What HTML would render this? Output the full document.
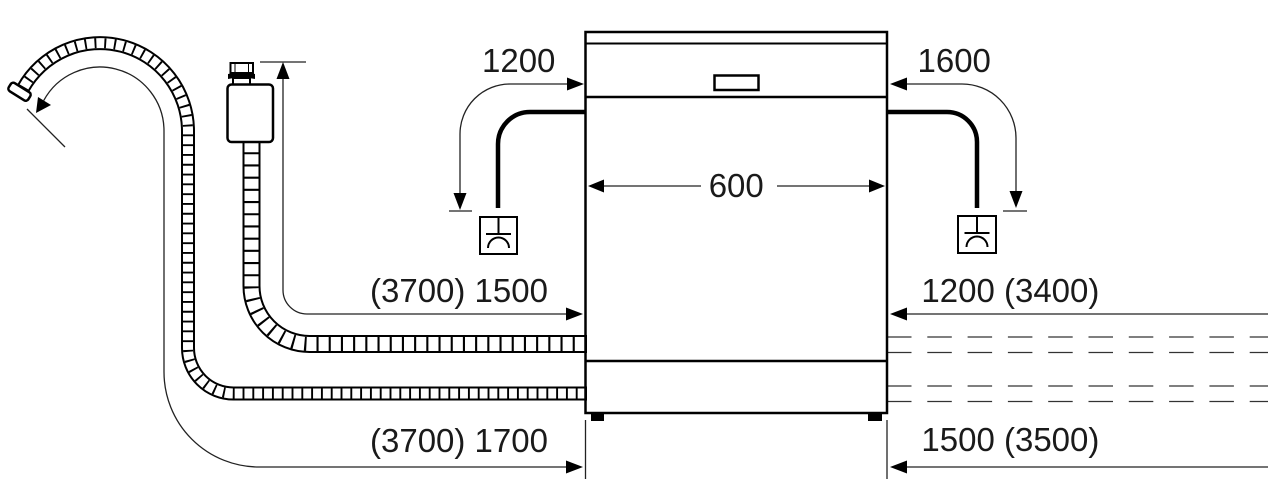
<!DOCTYPE html>
<html>
<head>
<meta charset="utf-8">
<style>
  html,body{margin:0;padding:0;background:#fff;}
  svg{display:block;}
  text{font-family:"Liberation Sans", Arial, sans-serif;font-size:33px;fill:#1a1a1a;}
</style>
</head>
<body>
<svg width="1280" height="498" viewBox="0 0 1280 498" xmlns="http://www.w3.org/2000/svg">
  <rect x="0" y="0" width="1280" height="498" fill="#fff"/>

  <!-- ===== Hoses (left) ===== -->
  <!-- big drain hose -->
  <g fill="none">
    <path d="M23,88.5 A88,88 0 0 1 188,131 V348 A45.5,45.5 0 0 0 233.5,393.5 H587" stroke="#000" stroke-width="14"/>
    <path d="M23,88.5 A88,88 0 0 1 188,131 V348 A45.5,45.5 0 0 0 233.5,393.5 H587" stroke="#fff" stroke-width="10"/>
    <path d="M23,88.5 A88,88 0 0 1 188,131 V348 A45.5,45.5 0 0 0 233.5,393.5 H587" stroke="#000" stroke-width="10" stroke-dasharray="1.9 7.9"/>
  </g>
  <rect x="8" y="87" width="23" height="9.5" rx="3" fill="#fff" stroke="#000" stroke-width="2.5" transform="rotate(32 19.5 91.75)"/>

  <!-- inlet hose -->
  <g fill="none">
    <path d="M251.5,140 V286 A58,58 0 0 0 309.5,344 H587" stroke="#000" stroke-width="18"/>
    <path d="M251.5,140 V286 A58,58 0 0 0 309.5,344 H587" stroke="#fff" stroke-width="14"/>
    <path d="M251.5,140 V286 A58,58 0 0 0 309.5,344 H587" stroke="#000" stroke-width="14" stroke-dasharray="2.1 10.1"/>
  </g>

  <!-- valve -->
  <rect x="233" y="78" width="17" height="7" fill="#fff" stroke="#000" stroke-width="2"/>
  <path d="M228,74 Q241.5,71 255,74 L255,79 Q241.5,76 228,79 Z" fill="#000"/>
  <rect x="230.5" y="63" width="22.5" height="10" fill="#fff" stroke="#000" stroke-width="2"/>
  <line x1="235" y1="64" x2="235" y2="72" stroke="#000" stroke-width="1"/>
  <line x1="248.5" y1="64" x2="248.5" y2="72" stroke="#000" stroke-width="1"/>
  <rect x="227.5" y="84.5" width="45.5" height="57.5" rx="4" fill="#fff" stroke="#000" stroke-width="2.5"/>

  <!-- ===== thin dimension lines ===== -->
  <g fill="none" stroke="#222" stroke-width="1.3">
    <path d="M283,79 V290 A24,24 0 0 0 307,314 H566"/>
    <line x1="260" y1="62" x2="306" y2="62"/>
    <path d="M43.7,100.6 A64,64 0 0 1 164,131 V372 A95,95 0 0 0 259,467 H566"/>
    <line x1="27" y1="109" x2="65" y2="147"/>
    <path d="M567,84 H510 A50,50 0 0 0 460,134 V193"/>
    <line x1="449" y1="211" x2="472" y2="211"/>
    <path d="M907,84 H962 A54,54 0 0 1 1016,138 V191"/>
    <line x1="1003" y1="211" x2="1027" y2="211"/>
    <line x1="604" y1="186" x2="701" y2="186"/>
    <line x1="777" y1="186" x2="869" y2="186"/>
    <line x1="907" y1="314" x2="1268" y2="314"/>
    <line x1="907" y1="467" x2="1268" y2="467"/>
    <line x1="585.5" y1="420" x2="585.5" y2="479"/>
    <line x1="887" y1="420" x2="887" y2="479"/>
  </g>

  <!-- dashed pipe lines right -->
  <g stroke="#333" stroke-width="1.3" stroke-dasharray="24.5 15.8" fill="none">
    <line x1="887" y1="337" x2="1268" y2="337"/>
    <line x1="887" y1="352.5" x2="1268" y2="352.5"/>
    <line x1="887" y1="386" x2="1268" y2="386"/>
    <line x1="887" y1="401.5" x2="1268" y2="401.5"/>
  </g>

  <!-- arrowheads -->
  <g fill="#000">
    <polygon points="283,62 276.5,79 289.5,79"/>
    <polygon points="583,314 566,307.5 566,320.5"/>
    <polygon points="583,467 566,460.5 566,473.5"/>
    <polygon points="36,113 38,97 51,105"/>
    <polygon points="584,84 567,77.5 567,90.5"/>
    <polygon points="460,210 453.5,193 466.5,193"/>
    <polygon points="890,84 907,77.5 907,90.5"/>
    <polygon points="1016,208 1009.5,191 1022.5,191"/>
    <polygon points="588,186 604,179.5 604,192.5"/>
    <polygon points="885,186 869,179.5 869,192.5"/>
    <polygon points="890,314 907,307.5 907,320.5"/>
    <polygon points="890,467 907,460.5 907,473.5"/>
  </g>

  <!-- thick drain hoses -->
  <g fill="none" stroke="#000" stroke-width="4.5">
    <path d="M585,112 H530 A32,32 0 0 0 498,144 V208"/>
    <path d="M887,112 H947 A30,30 0 0 1 977,142 V208"/>
  </g>

  <!-- drain symbols -->
  <g fill="none" stroke="#000" stroke-width="2">
    <rect x="480" y="217" width="37" height="37"/>
    <line x1="498.5" y1="217" x2="498.5" y2="234"/>
    <line x1="486" y1="234" x2="511" y2="234"/>
    <path d="M488,248 A10.5,10.5 0 0 1 509,248"/>

    <rect x="958" y="216" width="38" height="37"/>
    <line x1="977" y1="216" x2="977" y2="233"/>
    <line x1="964.5" y1="233" x2="989.5" y2="233"/>
    <path d="M966.5,247 A10.5,10.5 0 0 1 987.5,247"/>
  </g>

  <!-- ===== Dishwasher ===== -->
  <g fill="none" stroke="#000">
    <rect x="585.5" y="32" width="301.5" height="381" stroke-width="2.5"/>
    <line x1="585.5" y1="43.5" x2="887" y2="43.5" stroke-width="2"/>
    <line x1="585.5" y1="97" x2="887" y2="97" stroke-width="2.5"/>
    <line x1="585.5" y1="361" x2="887" y2="361" stroke-width="2.5"/>
    <rect x="714.5" y="75.5" width="44" height="14.5" stroke-width="2.5"/>
  </g>
  <rect x="591" y="414" width="13" height="7" fill="#000"/>
  <rect x="868" y="414" width="14" height="7" fill="#000"/>

  <!-- ===== Labels ===== -->
  <text x="482" y="72">1200</text>
  <text x="917.5" y="72">1600</text>
  <text x="708.7" y="197">600</text>
  <text x="370" y="302">(3700) 1500</text>
  <text x="921.4" y="302">1200 (3400)</text>
  <text x="370" y="452">(3700) 1700</text>
  <text x="921.4" y="451">1500 (3500)</text>
</svg>
</body>
</html>
